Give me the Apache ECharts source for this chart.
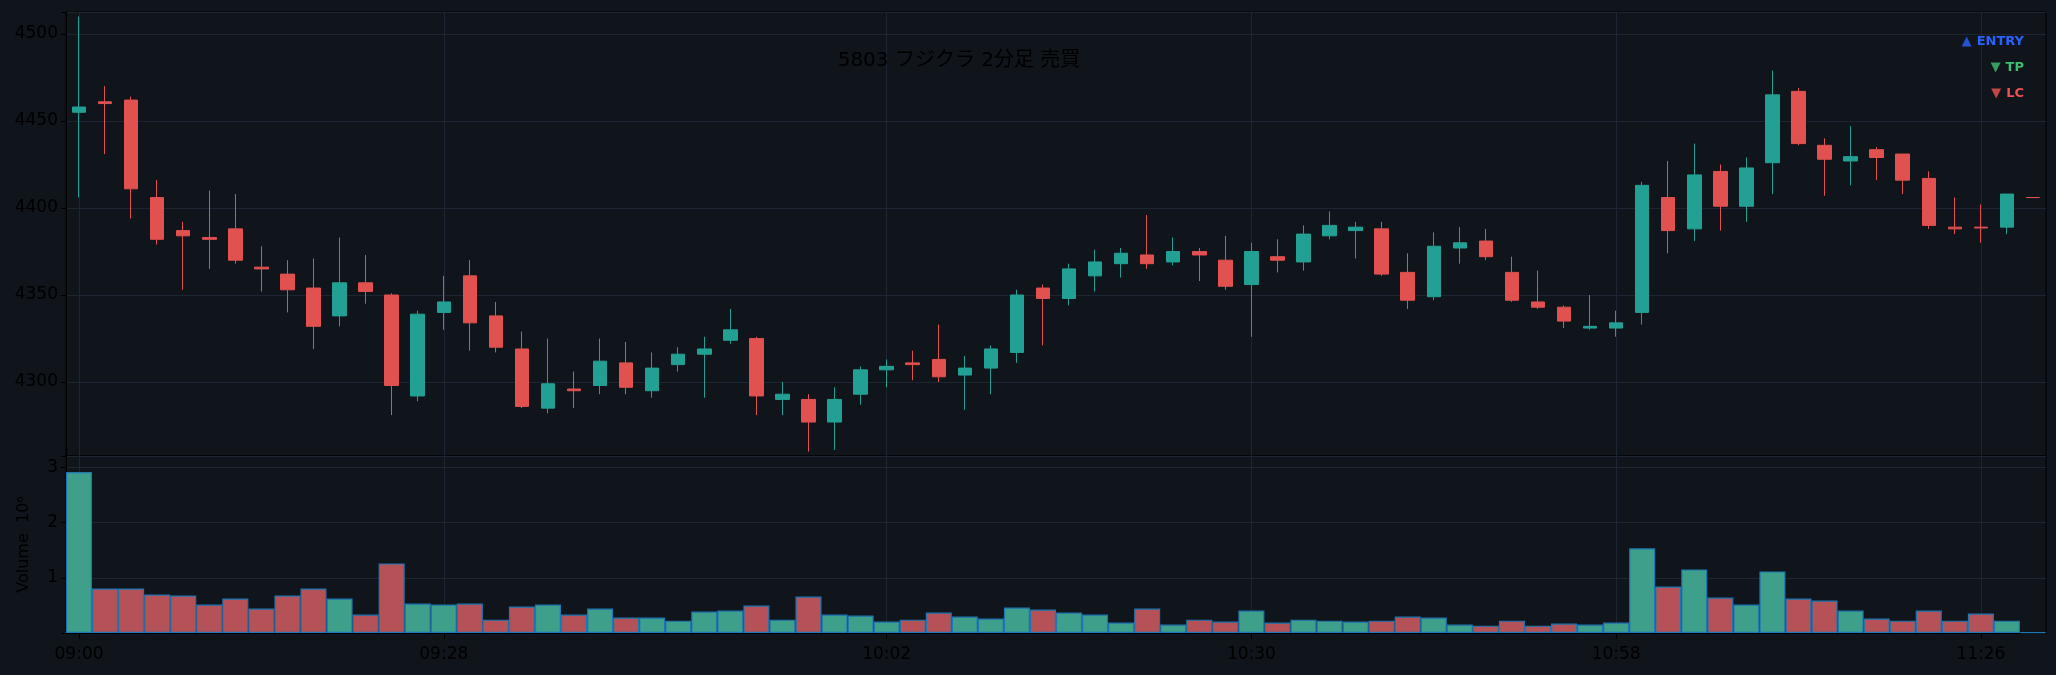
<!DOCTYPE html>
<html>
<head>
<meta charset="utf-8">
<title>5803 2分足</title>
<script src="https://cdn.jsdelivr.net/npm/echarts@6/dist/echarts.min.js"></script>
<style>
  html, body { margin: 0; padding: 0; background: #10141b; }
  #chart { width: 2056px; height: 675px; }
</style>
</head>
<body>
<div id="chart"></div>
<script>
// 2-minute bars, 09:00 - 11:30
const times = [
  '09:00','09:02','09:04','09:06','09:08','09:10','09:12','09:14','09:16','09:18',
  '09:20','09:22','09:24','09:26','09:28','09:30','09:32','09:34','09:36','09:38',
  '09:40','09:42','09:44','09:46','09:48','09:50','09:52','09:54','09:56','09:58',
  '10:00','10:02','10:04','10:06','10:08','10:10','10:12','10:14','10:16','10:18',
  '10:20','10:22','10:24','10:26','10:28','10:30','10:32','10:34','10:36','10:38',
  '10:40','10:42','10:44','10:46','10:48','10:50','10:52','10:54','10:56','10:58',
  '11:00','11:02','11:04','11:06','11:08','11:10','11:12','11:14','11:16','11:18',
  '11:20','11:22','11:24','11:26','11:28','11:30'
]
const tickLabels = ['09:00', '09:28', '10:02', '10:30', '10:58', '11:26']

const opens = [
  4455, 4461, 4462, 4406, 4387, 4383, 4388, 4366, 4362, 4354,
  4338, 4357, 4350, 4292, 4340, 4361, 4338, 4319, 4285, 4296,
  4298, 4311, 4295, 4310, 4316, 4324, 4325, 4290, 4290, 4277,
  4293, 4307, 4311, 4313, 4304, 4308, 4317, 4354, 4348, 4361,
  4368, 4373, 4369, 4375, 4370, 4356, 4372, 4369, 4384, 4387,
  4388, 4363, 4349, 4377, 4381, 4363, 4346, 4343, 4331, 4331,
  4340, 4406, 4388, 4421, 4401, 4426, 4467, 4436, 4427, 4433.5,
  4431, 4417, 4389, 4389, 4389, 4406
]
const closes = [
  4458, 4460, 4411, 4382, 4384, 4382, 4370, 4365, 4353, 4332,
  4357, 4352, 4298, 4339, 4346, 4334, 4320, 4286, 4299, 4295,
  4312, 4297, 4308, 4316, 4319, 4330, 4292, 4293, 4277, 4290,
  4307, 4309, 4310, 4303, 4308, 4319, 4350, 4348, 4365, 4369,
  4374, 4368, 4375, 4373, 4355, 4375, 4370, 4385, 4390, 4389,
  4362, 4347, 4378, 4380, 4372, 4347, 4343, 4335, 4332, 4334,
  4413, 4387, 4419, 4401, 4423, 4465, 4437, 4428, 4429.5, 4429,
  4416, 4390, 4388, 4388.5, 4408, 4406
]
const lows = [
  4406, 4431, 4394, 4379, 4353, 4365, 4368, 4352, 4340, 4319,
  4332, 4345, 4281, 4289, 4330, 4318, 4317, 4285, 4282, 4285,
  4293, 4293, 4291, 4306, 4291, 4322, 4281, 4281, 4260, 4261,
  4287, 4297, 4301, 4300, 4284, 4293, 4311, 4321, 4344, 4352,
  4360, 4365, 4367, 4358, 4353, 4326, 4363, 4364, 4382, 4371,
  4361, 4342, 4347, 4368, 4370, 4346, 4342, 4331, 4330, 4326,
  4333, 4374, 4381, 4387, 4392, 4408, 4436, 4407, 4413, 4416,
  4408, 4388, 4385, 4380, 4385, 4406
]
const highs = [
  4510, 4470, 4464, 4416, 4392, 4410, 4408, 4378, 4370, 4371,
  4383, 4373, 4351, 4341, 4361, 4370, 4346, 4329, 4325, 4306,
  4325, 4323, 4317, 4320, 4326, 4342, 4326, 4300, 4293, 4297,
  4309, 4313, 4318, 4333, 4315, 4321, 4353, 4356, 4368, 4376,
  4377, 4396, 4383, 4377, 4384, 4380, 4382, 4390, 4398, 4392,
  4392, 4374, 4386, 4389, 4388, 4372, 4364, 4344, 4350, 4341,
  4415, 4427, 4437, 4425, 4429, 4479, 4469, 4440, 4447, 4435,
  4431, 4421, 4406, 4402, 4408, 4406
]
// volume in millions of shares
const volumes = [
  2.915, 0.806, 0.806, 0.697, 0.679, 0.515, 0.624, 0.442, 0.679, 0.806,
  0.624, 0.333, 1.26, 0.533, 0.515, 0.533, 0.242, 0.479, 0.515, 0.333,
  0.442, 0.279, 0.279, 0.224, 0.388, 0.406, 0.497, 0.242, 0.661, 0.333,
  0.315, 0.206, 0.242, 0.370, 0.297, 0.261, 0.461, 0.424, 0.370, 0.333,
  0.188, 0.442, 0.152, 0.242, 0.206, 0.406, 0.188, 0.242, 0.224, 0.206,
  0.224, 0.297, 0.279, 0.152, 0.133, 0.224, 0.133, 0.170, 0.152, 0.188,
  1.533, 0.842, 1.152, 0.642, 0.515, 1.115, 0.624, 0.588, 0.406, 0.261,
  0.224, 0.406, 0.224, 0.352, 0.224, 0.012
]

const BG = '#10141b'
const GRID = '#1c2633'
const UP = '#23a094'
const DOWN = '#e05150'
const VOL_UP = '#3e9f8b'
const VOL_DOWN = '#b45257'
const FONT = "'DejaVu Sans', 'Noto Sans CJK JP', sans-serif"

const tickIdx = tickLabels.map(t => times.indexOf(t))
const isTick = (i) => tickIdx.includes(i)

const candleData = times.map((_, i) => [opens[i], closes[i], lows[i], highs[i]])
const volumeData = volumes.map((v, i) => ({
  value: v,
  itemStyle: { color: closes[i] > opens[i] ? VOL_UP : VOL_DOWN },
}))

const markerLegend = (name, icon, color, top) => ({
  right: 32,
  top: top,
  orient: 'vertical',
  padding: 0,
  itemWidth: 10,
  itemHeight: 10,
  selectedMode: false,
  textStyle: { fontFamily: FONT, fontSize: 13, fontWeight: 'bold', color: color },
  data: [{ name: name, icon: icon, itemStyle: { color: color } }],
})
const DOWN_TRI = 'path://M0,0L10,0L5,10Z'

const chart = echarts.init(document.getElementById('chart'))

const option = {
  backgroundColor: BG,
  animation: false,
  title: {
    text: '5803 フジクラ 2分足 売買',
    left: 959,
    top: 51,
    padding: 0,
    textAlign: 'center',
    textStyle: { color: '#000', fontSize: 20, fontWeight: 'normal', fontFamily: FONT },
  },
  legend: [
    markerLegend('ENTRY', 'triangle', '#2962ff', 35),
    markerLegend('TP', DOWN_TRI, '#3fbf6f', 61),
    markerLegend('LC', DOWN_TRI, '#ef5350', 87),
  ],
  grid: [
    { left: 66, right: 10, top: 12, height: 444, show: true, borderColor: '#000', borderWidth: 1, backgroundColor: BG },
    { left: 66, right: 10, top: 456, height: 177, show: true, borderColor: '#000', borderWidth: 1, backgroundColor: BG },
  ],
  xAxis: [
    {
      type: 'category',
      gridIndex: 0,
      data: times,
      boundaryGap: true,
      axisLine: { show: false },
      axisTick: { show: false },
      axisLabel: { show: false },
      splitLine: { show: true, interval: isTick, alignWithLabel: true, lineStyle: { color: GRID, width: 1 } },
    },
    {
      type: 'category',
      gridIndex: 1,
      data: times,
      boundaryGap: true,
      axisLine: { show: true, lineStyle: { color: '#000' } },
      axisTick: { show: true, interval: isTick, alignWithLabel: true, length: 6, lineStyle: { color: '#000' } },
      axisLabel: { show: true, interval: isTick, color: '#000', fontSize: 17, fontFamily: FONT, margin: 13 },
      splitLine: { show: true, interval: isTick, alignWithLabel: true, lineStyle: { color: GRID, width: 1 } },
    },
  ],
  yAxis: [
    {
      type: 'value',
      gridIndex: 0,
      min: 4257.5,
      max: 4512.6,
      splitNumber: 5,
      minInterval: 50,
      maxInterval: 50,
      axisLine: { show: true, lineStyle: { color: '#000' } },
      axisTick: { show: true, length: 5, lineStyle: { color: '#000' } },
      axisLabel: {
        color: '#000', fontSize: 17, fontFamily: FONT, margin: 8,
        formatter: v => (v % 50 === 0 ? String(v) : ''),
      },
      splitLine: { show: true, lineStyle: { color: GRID, width: 1 } },
    },
    {
      type: 'value',
      gridIndex: 1,
      min: 0,
      max: 3.205,
      interval: 1,
      name: 'Volume  10⁶',
      nameLocation: 'middle',
      nameRotate: 90,
      nameGap: 34,
      nameTextStyle: { color: '#000', fontSize: 16, fontFamily: FONT },
      axisLine: { show: true, lineStyle: { color: '#000' } },
      axisTick: { show: true, length: 5, lineStyle: { color: '#000' } },
      axisLabel: {
        color: '#000', fontSize: 17, fontFamily: FONT, margin: 8,
        formatter: v => (Number.isInteger(v) && v > 0 ? String(v) : ''),
      },
      splitLine: { show: true, lineStyle: { color: GRID, width: 1 } },
    },
  ],
  series: [
    {
      name: '5803',
      type: 'candlestick',
      xAxisIndex: 0,
      yAxisIndex: 0,
      data: candleData,
      barWidth: 14,
      itemStyle: {
        color: UP,
        color0: DOWN,
        borderColor: UP,
        borderColor0: DOWN,
        borderColorDoji: DOWN,
        borderWidth: 1,
      },
    },
    {
      name: 'Volume',
      type: 'bar',
      xAxisIndex: 1,
      yAxisIndex: 1,
      data: volumeData,
      barCategoryGap: '0%',
      itemStyle: { borderColor: '#1f77b4', borderWidth: 1.2 },
    },
    // marker series: only their legend entries are shown
    { name: 'ENTRY', type: 'scatter', xAxisIndex: 0, yAxisIndex: 0, data: [] },
    { name: 'TP', type: 'scatter', xAxisIndex: 0, yAxisIndex: 0, data: [] },
    { name: 'LC', type: 'scatter', xAxisIndex: 0, yAxisIndex: 0, data: [] },
  ],
}

chart.setOption(option)
window.addEventListener('resize', () => chart.resize())
</script>
</body>
</html>
